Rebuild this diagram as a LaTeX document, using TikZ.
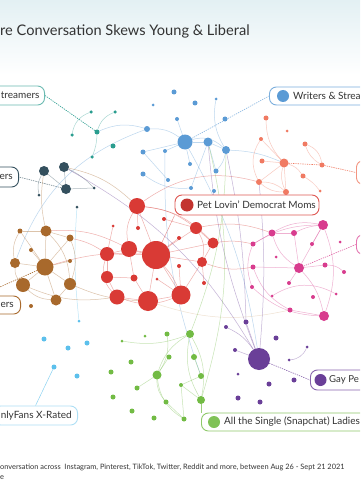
\documentclass[tikz,border=0pt]{standalone}
\usepackage{fontspec}
\setmainfont{Lato}
\pgfdeclarelayer{back}
\pgfdeclarelayer{bg}
\pgfsetlayers{back,bg,main}
\definecolor{cteal}{HTML}{2A9D8F}
\definecolor{cslate}{HTML}{34505E}
\definecolor{cblue}{HTML}{5B9BD5}
\definecolor{cred}{HTML}{D93A35}
\definecolor{cbrown}{HTML}{A8692C}
\definecolor{ccoral}{HTML}{F07A62}
\definecolor{cpink}{HTML}{D83C8E}
\definecolor{cpurple}{HTML}{6A3F98}
\definecolor{cgreen}{HTML}{72BB44}
\definecolor{clight}{HTML}{5CC0EC}
\definecolor{ctan}{HTML}{D9B88F}
\definecolor{textgray}{HTML}{333333}
\definecolor{bgtop}{HTML}{E3F0F3}
\begin{document}
\begin{tikzpicture}[x=1pt,y=-1pt,
  nd/.style={circle,inner sep=0pt,outer sep=0pt,fill=#1,draw=none},
  e/.style={line width=0.5pt,draw opacity=0.4},
  lbl/.style={draw=#1,line width=0.9pt,rounded corners=7pt,fill=white,inner sep=0pt,minimum height=19pt},
  txt/.style={inner sep=0pt,text=textgray,font=\fontsize{10}{12}\selectfont},
  conn/.style={line width=0.6pt,dash pattern=on 1.3pt off 1pt}]
\useasboundingbox (0,0) rectangle (360,500);
\clip (0,0) rectangle (360,500);
\begin{pgfonlayer}{back}
\fill[white] (0,0) rectangle (360,500);
\shade[top color=bgtop,bottom color=white] (0,0) rectangle (360,75);
\end{pgfonlayer}

% title and footer
\node[anchor=base west,inner sep=0pt,text=textgray,font=\fontsize{14.6}{17}\selectfont] (title) at (0,36) {re Conversation Skews Young \& Liberal};
\node[anchor=base west,inner sep=0pt,text=textgray,font=\fontsize{7.4}{9}\selectfont] (foot1) at (0,469) {onversation across\ \ Instagram, Pinterest, TikTok, Twitter, Reddit and more, between Aug 26 - Sept 21 2021};
\node[anchor=base west,inner sep=0pt,text=textgray,font=\fontsize{7.4}{9}\selectfont] (foot2) at (0,479) {e};

% teal
\node[nd=cteal,minimum size=5pt] (t1) at (97,132) {};
\node[nd=cteal,minimum size=3.5pt] (t2) at (91,112) {};
\node[nd=cteal,minimum size=3.5pt] (t3) at (115,112) {};
\node[nd=cteal,minimum size=3.5pt] (t4) at (72,135) {};
\node[nd=cteal,minimum size=5pt] (t5) at (113,146) {};
\node[nd=cteal,minimum size=3.5pt] (t6) at (92,157) {};
% slate
\node[nd=cslate,minimum size=10pt] (s1) at (44,171) {};
\node[nd=cslate,minimum size=10pt] (s2) at (64,167) {};
\node[nd=cslate,minimum size=10pt] (s3) at (66,189) {};
\node[nd=cslate,minimum size=3pt] (s4) at (39,195) {};
\node[nd=cslate,minimum size=3pt] (s5) at (94,188) {};
\node[nd=cslate,minimum size=3pt] (s6) at (77,207) {};
% blue
\node[nd=cblue,minimum size=5pt] (b1) at (174,92) {};
\node[nd=cblue,minimum size=3pt] (b2) at (153,105) {};
\node[nd=cblue,minimum size=5pt] (b3) at (195,103) {};
\node[nd=cblue,minimum size=3pt] (b4) at (216,99) {};
\node[nd=cblue,minimum size=4pt] (b5) at (177,119) {};
\node[nd=cblue,minimum size=5pt] (b6) at (225,119) {};
\node[nd=cblue,minimum size=6pt] (b7) at (147,129) {};
\node[nd=cblue,minimum size=15pt] (b8) at (185,142) {};
\node[nd=cblue,minimum size=9pt] (b9) at (208,142) {};
\node[nd=cblue,minimum size=8pt] (b10) at (226,150) {};
\node[nd=cblue,minimum size=5pt] (b11) at (143,152) {};
\node[nd=cblue,minimum size=4pt] (b12) at (165,151) {};
\node[nd=cblue,minimum size=4pt] (b13) at (190,164) {};
\node[nd=cblue,minimum size=5pt] (b14) at (216,171) {};
\node[nd=cblue,minimum size=5pt] (b15) at (143,174) {};
\node[nd=cblue,minimum size=4pt] (b16) at (168,180) {};
\node[nd=cblue,minimum size=4pt] (b17) at (191,188) {};
\node[nd=cblue,minimum size=4pt] (b18) at (214,191) {};
% red
\node[nd=cred,minimum size=16pt] (r1) at (137,206) {};
\node[nd=cred,minimum size=4pt] (r2) at (164,219) {};
\node[nd=cred,minimum size=3pt] (r3) at (113,226) {};
\node[nd=cred,minimum size=4pt] (r4) at (138,228) {};
\node[nd=cred,minimum size=12pt] (r5) at (196,228) {};
\node[nd=cred,minimum size=4pt] (r6) at (179,238) {};
\node[nd=cred,minimum size=11pt] (r7) at (213,243) {};
\node[nd=cred,minimum size=16pt] (r8) at (129,249) {};
\node[nd=cred,minimum size=28pt] (r9) at (156,255) {};
\node[nd=cred,minimum size=14pt] (r10) at (107,254) {};
\node[nd=cred,minimum size=10pt] (r11) at (202,262) {};
\node[nd=cred,minimum size=4pt] (r12) at (179,266) {};
\node[nd=cred,minimum size=12pt] (r13) at (107,277) {};
\node[nd=cred,minimum size=7pt] (r14) at (134,278) {};
\node[nd=cred,minimum size=3pt] (r15) at (157,279) {};
\node[nd=cred,minimum size=15pt] (r16) at (117,297) {};
\node[nd=cred,minimum size=20pt] (r17) at (148,301) {};
\node[nd=cred,minimum size=19pt] (r18) at (181,295) {};
\node[nd=cred,minimum size=4pt] (r19) at (204,283) {};
% brown
\node[nd=cbrown,minimum size=5pt] (w1) at (20,231) {};
\node[nd=cbrown,minimum size=11pt] (w2) at (46,231) {};
\node[nd=cbrown,minimum size=7pt] (w3) at (70,238) {};
\node[nd=cbrown,minimum size=4pt] (w4) at (31,250) {};
\node[nd=cbrown,minimum size=10pt] (w5) at (15,263) {};
\node[nd=cbrown,minimum size=17pt] (w6) at (45,267) {};
\node[nd=cbrown,minimum size=4pt] (w7) at (70,261) {};
\node[nd=cbrown,minimum size=14pt] (w8) at (23,285) {};
\node[nd=cbrown,minimum size=12pt] (w9) at (70,284) {};
\node[nd=cbrown,minimum size=11pt] (w10) at (56,300) {};
\node[nd=cbrown,minimum size=4pt] (w11) at (31,306) {};
% coral
\node[nd=ccoral,minimum size=5pt] (c1) at (266,118) {};
\node[nd=ccoral,minimum size=3pt] (c2) at (287,131) {};
\node[nd=ccoral,minimum size=4pt] (c3) at (261,139) {};
\node[nd=ccoral,minimum size=5pt] (c4) at (305,144) {};
\node[nd=ccoral,minimum size=5pt] (c5) at (262,161) {};
\node[nd=ccoral,minimum size=9pt] (c6) at (284,163) {};
\node[nd=ccoral,minimum size=5pt] (c7) at (322,165) {};
\node[nd=ccoral,minimum size=5pt] (c8) at (303,176) {};
\node[nd=ccoral,minimum size=6pt] (c9) at (259,182) {};
\node[nd=ccoral,minimum size=3pt] (c10) at (320,191) {};
\node[nd=ccoral,minimum size=6pt] (c11) at (286,192) {};
% pink
\node[nd=cpink,minimum size=10pt] (p1) at (323,225) {};
\node[nd=cpink,minimum size=7pt] (p2) at (272,233) {};
\node[nd=cpink,minimum size=6pt] (p3) at (294,233) {};
\node[nd=cpink,minimum size=4pt] (p4) at (312,244) {};
\node[nd=cpink,minimum size=3pt] (p5) at (340,242) {};
\node[nd=cpink,minimum size=5pt] (p6) at (253,244) {};
\node[nd=cpink,minimum size=3pt] (p7) at (276,257) {};
\node[nd=cpink,minimum size=10pt] (p8) at (299,268) {};
\node[nd=cpink,minimum size=5pt] (p9) at (325,265) {};
\node[nd=cpink,minimum size=4pt] (p10) at (344,272) {};
\node[nd=cpink,minimum size=5pt] (p11) at (253,267) {};
\node[nd=cpink,minimum size=4pt] (p12) at (289,283) {};
\node[nd=cpink,minimum size=4pt] (p13) at (252,287) {};
\node[nd=cpink,minimum size=3pt] (p14) at (272,296) {};
\node[nd=cpink,minimum size=4pt] (p15) at (313,297) {};
\node[nd=cpink,minimum size=3pt] (p16) at (336,294) {};
\node[nd=cpink,minimum size=5pt] (p17) at (290,310) {};
\node[nd=cpink,minimum size=10pt] (p18) at (324,316) {};
% purple
\node[nd=cpurple,minimum size=22pt] (u1) at (259,359) {};
\node[nd=cpurple,minimum size=5pt] (u2) at (246,322) {};
\node[nd=cpurple,minimum size=4pt] (u3) at (226,327) {};
\node[nd=cpurple,minimum size=5pt] (u4) at (276,338) {};
\node[nd=cpurple,minimum size=4pt] (u5) at (235,350) {};
\node[nd=cpurple,minimum size=3pt] (u6) at (289,360) {};
\node[nd=cpurple,minimum size=3pt] (u7) at (307,347) {};
\node[nd=cpurple,minimum size=3pt] (u8) at (238,374) {};
\node[nd=cpurple,minimum size=5pt] (u9) at (269,384) {};
\node[nd=cpurple,minimum size=5pt] (u10) at (294,380) {};
\node[nd=cpurple,minimum size=5pt] (u11) at (238,398) {};
\node[nd=cpurple,minimum size=5pt] (u12) at (260,402) {};
% green
\node[nd=cgreen,minimum size=3pt] (g1) at (122,341) {};
\node[nd=cgreen,minimum size=3pt] (g2) at (145,336) {};
\node[nd=cgreen,minimum size=5pt] (g3) at (167,334) {};
\node[nd=cgreen,minimum size=8pt] (g4) at (190,334) {};
\node[nd=cgreen,minimum size=5pt] (g5) at (169,357) {};
\node[nd=cgreen,minimum size=6pt] (g6) at (194,357) {};
\node[nd=cgreen,minimum size=5pt] (g7) at (131,362) {};
\node[nd=cgreen,minimum size=5pt] (g8) at (111,372) {};
\node[nd=cgreen,minimum size=9pt] (g9) at (157,375) {};
\node[nd=cgreen,minimum size=6pt] (g10) at (201,376) {};
\node[nd=cgreen,minimum size=4pt] (g11) at (181,385) {};
\node[nd=cgreen,minimum size=5pt] (g12) at (137,388) {};
\node[nd=cgreen,minimum size=5pt] (g13) at (113,397) {};
\node[nd=cgreen,minimum size=5pt] (g14) at (166,402) {};
\node[nd=cgreen,minimum size=8pt] (g15) at (201,400) {};
\node[nd=cgreen,minimum size=5pt] (g16) at (132,411) {};
\node[nd=cgreen,minimum size=5pt] (g17) at (154,418) {};
\node[nd=cgreen,minimum size=5pt] (g18) at (184,419) {};
% light blue
\node[nd=clight,minimum size=5pt] (l1) at (44,339) {};
\node[nd=clight,minimum size=5pt] (l2) at (68,348) {};
\node[nd=clight,minimum size=5pt] (l3) at (87,343) {};
\node[nd=clight,minimum size=5pt] (l4) at (54,367) {};
\node[nd=clight,minimum size=5pt] (l5) at (77,376) {};
\node[nd=clight,minimum size=3pt] (l6) at (79,321) {};

% labels
\node[lbl=cteal!70,minimum width=80pt,anchor=east] (bxT) at (45,95.5) {};
\node[txt,anchor=west] (txT) at (0.6,95.5) {treamers};
\node[lbl=cslate,minimum width=80pt,minimum height=20pt,anchor=east] (bxS) at (19,177) {};
\node[txt,anchor=east] (txS) at (13,177) {ers};
\node[lbl=cbrown,minimum width=80pt,minimum height=18pt,anchor=east] (bxB) at (21,305) {};
\node[txt,anchor=east] (txB) at (14,305) {ers};
\node[lbl=clight!50,minimum width=84pt,anchor=east] (bxL) at (78,415.5) {};
\node[txt,anchor=west] (txL) at (0.6,415.5) {nlyFans X-Rated};
\node[lbl=cred!85,minimum width=144pt,minimum height=20pt] (bxP) at (247,205) {};
\node[nd=cred!90!black,minimum size=13pt] (dP) at (187,205) {};
\node[txt,anchor=west] (txP) at (197,205) {Pet Lovin’ Democrat Moms};
\node[lbl=cblue!80,minimum width=120pt,minimum height=18pt,anchor=west] (bxW) at (269,96) {};
\node[nd=cblue,minimum size=12pt] (dW) at (283,96) {};
\node[txt,anchor=west] (txW) at (293,96) {Writers \& Strea};
\node[lbl=ccoral!80,minimum width=60pt,minimum height=24pt,anchor=west] (bxC) at (356,172.5) {};
\node[lbl=cpink!70,minimum width=60pt,minimum height=20pt,anchor=west] (bxK) at (356,244.5) {};
\node[lbl=cpurple!80,minimum width=80pt,minimum height=20pt,anchor=west] (bxG) at (310,380) {};
\node[nd=cpurple,minimum size=12pt] (dG) at (320.5,380) {};
\node[txt,anchor=west,font=\fontsize{9.6}{11}\selectfont] (txG) at (329,380) {Gay Pe};
\node[lbl=cgreen!80,minimum width=200pt,minimum height=18pt,anchor=west] (bxN) at (201,422) {};
\node[nd=cgreen!90,minimum size=12pt] (dN) at (214,422) {};
\node[txt,anchor=west] (txN) at (224,422) {All the Single (Snapchat) Ladies};

\begin{pgfonlayer}{bg}
% connectors
\draw[conn,cteal] (t1) -- (bxT.east);
\draw[conn,cslate!70] (s3) -- (bxS.east);
\draw[conn,cbrown] (w6) -- (bxB.north);
\draw[line width=0.5pt,clight!70] (l4) -- (bxL.north);
\draw[conn,cblue!70] (b8) -- (bxW.west);
\draw[conn,ccoral] (c6) -- (c7) -- (bxC.west);
\draw[conn,cpink!80] (p8) -- (bxK.west);
\draw[conn,cpurple!80] (u1) -- (bxG.west);
\draw[line width=0.5pt,cgreen!70] (g15) -- (bxN.north west);
\draw[line width=0.4pt,cred!60] (r9) -- (bxP.south west);
% teal
\draw[e,cteal] (t2) to[bend right=30] (t4);
\draw[e,cteal] (t3) to[bend right=25] (t1);
\draw[e,cteal] (t1) to[bend left=10] (t6);
% slate
\draw[e,cslate] (s1) to[bend right=20] (s4);
\draw[e,cslate] (s2) -- (s3);
\draw[e,cslate] (s1) -- (s3);
\draw[e,cslate] (s2) to[bend left=10] (s5);
\draw[e,cslate] (s3) -- (s5);
% blue
\draw[e,cblue] (t1) to[bend left=20] (b7);
\draw[e,cblue] (b7) to[bend left=20] (b8);
\draw[e,cblue] (b8) -- (b9);
\draw[e,cblue] (b9) -- (b10);
\draw[e,cblue] (b5) -- (b8);
\draw[e,cblue] (b4) to[bend right=20] (b10);
\draw[e,cblue] (b8) -- (b11);
\draw[e,cblue] (b8) -- (b12);
\draw[e,cblue] (b8) -- (b13);
\draw[e,cblue] (b9) -- (b14);
\draw[e,cblue] (b10) to[bend left=15] (b14);
\draw[e,cblue] (b8) to[bend left=30] (b10);
\draw[e,cblue] (b15) to[bend right=20] (b17);
\draw[e,cblue] (b11) -- (b16);
\draw[e,cblue] (b9) -- (b17);
\draw[e,cblue] (b7) to[bend right=25] (w5);
\draw[e,cblue] (b10) to[bend left=10] (c6);
\draw[e,cblue] (b8) to[bend left=10] (u1);
\draw[e,cblue] (b12) to[bend right=10] (g10);
\draw[e,clight] (s6) to[bend right=5] (l6);
% red
\draw[e,cred] (r1) -- (r9);
\draw[e,cred] (r1) to[bend left=15] (r5);
\draw[e,cred] (r4) -- (r1);
\draw[e,cred] (r2) -- (r5);
\draw[e,cred] (r9) -- (r8);
\draw[e,cred] (r9) -- (r10);
\draw[e,cred] (r9) -- (r17);
\draw[e,cred] (r9) -- (r18);
\draw[e,cred] (r9) -- (r11);
\draw[e,cred] (r9) -- (r5);
\draw[e,cred] (r9) -- (r7);
\draw[e,cred] (r8) -- (r10);
\draw[e,cred] (r10) -- (r13);
\draw[e,cred] (r13) -- (r16);
\draw[e,cred] (r16) -- (r17);
\draw[e,cred] (r17) -- (r18);
\draw[e,cred] (r18) -- (r11);
\draw[e,cred] (r11) -- (r7);
\draw[e,cred] (r5) -- (r7);
\draw[e,cred] (r8) -- (r14);
\draw[e,cred] (r14) -- (r17);
\draw[e,cred] (r13) -- (r14);
\draw[e,cred] (r12) -- (r18);
\draw[e,cred] (r6) -- (r9);
\draw[e,cred] (r15) -- (r18);
\draw[e,cred] (r19) -- (r11);
\draw[e,cred] (r1) to[bend right=20] (r8);
\draw[e,cred] (r3) -- (r10);
\draw[e,cred] (r8) to[bend left=25] (r18);
\draw[e,cred] (r10) to[bend right=30] (r16);
\draw[e,cred] (r1) to[bend left=20] (r7);
\draw[e,cred] (r5) to[bend left=20] (r11);
\draw[e,cred] (r16) to[bend right=20] (r18);
\draw[e,cred] (r5) to[bend left=15] (p2);
\draw[e,cred] (r7) to[bend left=10] (p6);
\draw[e,cred] (r11) to[bend right=15] (p11);
\draw[e,cred] (r1) to[bend left=25] (c9);
\draw[e,cred] (w2) to[bend left=15] (r8);
\draw[e,cred] (w6) to[bend left=10] (r9);
\draw[e,cred] (w3) to[bend left=10] (r10);
\draw[e,cbrown] (w9) to[bend right=10] (r17);
\draw[e,cbrown] (w8) to[bend right=15] (r16);
\draw[e,cbrown] (s2) to[bend left=15] (r1);
\draw[e,ctan] (r17) to[bend right=15] (p17);
% brown
\draw[e,cbrown] (w6) -- (w1);
\draw[e,cbrown] (w6) -- (w2);
\draw[e,cbrown] (w6) -- (w3);
\draw[e,cbrown] (w6) -- (w4);
\draw[e,cbrown] (w6) -- (w5);
\draw[e,cbrown] (w6) -- (w7);
\draw[e,cbrown] (w6) -- (w8);
\draw[e,cbrown] (w6) -- (w9);
\draw[e,cbrown] (w6) -- (w10);
\draw[e,cbrown] (w2) to[bend left=20] (w9);
\draw[e,cbrown] (w1) to[bend right=20] (w5);
\draw[e,cbrown] (w5) to[bend right=20] (w8);
\draw[e,cbrown] (w8) to[bend right=20] (w10);
\draw[e,cbrown] (w9) -- (w10);
\draw[e,cbrown] (w3) to[bend left=20] (w9);
\draw[e,cbrown] (w2) -- (w3);
\draw[e,cbrown] (w1) -- (w2);
\draw[e,cbrown] (s1) to[bend right=10] (w2);
% coral
\draw[e,ccoral] (c6) -- (c3);
\draw[e,ccoral] (c6) -- (c5);
\draw[e,ccoral] (c6) -- (c9);
\draw[e,ccoral] (c6) -- (c11);
\draw[e,ccoral] (c6) to[bend left=20] (c1);
\draw[e,ccoral] (c3) to[bend right=30] (c9);
\draw[e,ccoral] (c4) to[bend left=30] (c7);
\draw[e,ccoral] (c4) to[bend right=20] (c7);
\draw[e,ccoral] (c9) to[bend left=20] (c11);
\draw[e,ccoral] (c9) to[bend right=20] (c11);
\draw[e,ccoral] (c6) to[bend left=20] (c8);
\draw[e,ccoral] (c8) to[bend left=10] (c10);
\draw[e,ccoral] (c11) to[bend left=20] (c6);
% pink
\draw[e,cpink] (p1) to[bend right=20] (p2);
\draw[e,cpink] (p1) to[bend right=10] (p3);
\draw[e,cpink] (p1) -- (p8);
\draw[e,cpink] (p1) to[bend left=20] (p18);
\draw[e,cpink] (p2) -- (p3);
\draw[e,cpink] (p6) -- (p2);
\draw[e,cpink] (p6) to[bend right=20] (p13);
\draw[e,cpink] (p8) -- (p9);
\draw[e,cpink] (p9) to[bend left=20] (p10);
\draw[e,cpink] (p8) to[bend left=15] (p18);
\draw[e,cpink] (p8) -- (p11);
\draw[e,cpink] (p8) -- (p3);
\draw[e,cpink] (p12) -- (p8);
\draw[e,cpink] (p14) to[bend left=30] (p16);
\draw[e,cpink] (p17) -- (p18);
\draw[e,cpink] (p13) to[bend right=20] (p18);
\draw[e,cpink] (p2) to[bend right=20] (p8);
\draw[e,cpink] (p6) to[bend left=15] (p1);
\draw[e,cpink] (p4) -- (p1);
\draw[e,cpink] (p11) to[bend right=20] (p17);
% purple
\draw[e,cpurple] (u1) -- (u2);
\draw[e,cpurple] (u1) to[bend right=15] (u3);
\draw[e,cpurple] (u1) -- (u5);
\draw[e,cpurple] (u6) to[bend right=30] (u7);
\draw[e,cpurple] (s2) to[bend left=15] (u1);
\draw[e,cpurple] (c9) to[bend left=5] (u1);
\draw[e,cpurple] (b10) to[bend left=5] (u2);
\draw[e,cpurple] (b9) to[bend right=8] (u1);
% green
\draw[e,cgreen] (g9) -- (g5);
\draw[e,cgreen] (g9) to[bend left=20] (g4);
\draw[e,cgreen] (g9) -- (g12);
\draw[e,cgreen] (g9) to[bend right=20] (g14);
\draw[e,cgreen] (g4) to[bend left=20] (g15);
\draw[e,cgreen] (g4) to[bend right=20] (g15);
\draw[e,cgreen] (g6) -- (g10);
\draw[e,cgreen] (g10) -- (g11);
\draw[e,cgreen] (g11) -- (g15);
\draw[e,cgreen] (g14) -- (g18);
\draw[e,cgreen] (g11) -- (g18);
\draw[e,cgreen] (g3) to[bend left=20] (g9);
\draw[e,cgreen] (g1) to[bend right=15] (g4);
\draw[e,cgreen] (g9) to[bend right=25] (g18);
\draw[e,cgreen] (b9) to[bend left=15] (g15);
\draw[e,cgreen] (b10) to[bend left=10] (g4);
\end{pgfonlayer}
\end{tikzpicture}
\end{document}
